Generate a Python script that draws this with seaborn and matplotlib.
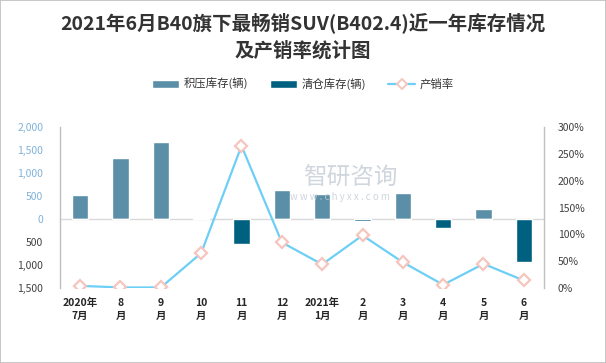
import numpy as np
import pandas as pd
import matplotlib
matplotlib.use("Agg")
import matplotlib.pyplot as plt
import seaborn as sns
from matplotlib.lines import Line2D
from matplotlib.patches import Patch, Rectangle
from matplotlib.ticker import FuncFormatter

# Data
months = ["2020年\n7月", "8\n月", "9\n月", "10\n月", "11\n月", "12\n月",
          "2021年\n1月", "2\n月", "3\n月", "4\n月", "5\n月", "6\n月"]
backlog = [520, 1320, 1670, 30, 0, 630, 540, 0, 565, 0, 215, 0]        # 积压库存(辆)
clearance = [0, 0, 0, 0, 540, 0, 0, 40, 0, 190, 0, 930]                 # 清仓库存(辆), drawn below zero
sell_rate = [4, 1, 1, 65, 265, 85, 44, 98, 48, 6, 45, 14]               # 产销率 (%)

series_names = ["积压库存(辆)", "清仓库存(辆)", "产销率"]
bar_colors = ["#5B8FA8", "#00607F"]
line_color = "#6DCFF6"
marker_edge = "#F6C5BE"

df = pd.DataFrame({
    "month": months * 2,
    "value": backlog + [-v for v in clearance],
    "type": [series_names[0]] * len(months) + [series_names[1]] * len(months),
})

sns.set_theme(style="white")
plt.rcParams["font.family"] = ["Noto Sans CJK SC", "DejaVu Sans"]

fig = plt.figure(figsize=(6.06, 3.63), dpi=100)
ax = fig.add_axes([60 / 606, 1 - 288 / 363, 484 / 606, 161 / 363])

sns.barplot(data=df, x="month", y="value", hue="type", dodge=False,
            palette=bar_colors, width=0.4, errorbar=None, legend=False,
            saturation=1, ax=ax)
ax.axhline(0, color="#d9d9d9", lw=1, zorder=0.5)

ax.set_ylim(-1500, 2000)
ax.set_yticks(np.arange(-1500, 2001, 500))
ax.yaxis.set_major_formatter(FuncFormatter(lambda v, p: f"{abs(v):,.0f}"))
for lab, v in zip(ax.get_yticklabels(), ax.get_yticks()):
    lab.set_color("#7FB2D9" if v >= 0 else "#404040")
ax.set_xlabel("")
ax.set_ylabel("")
ax.tick_params(axis="y", length=0, labelsize=7.5, pad=12)
ax.tick_params(axis="x", length=0, labelsize=7.5, pad=7)
for lab in ax.get_xticklabels():
    lab.set_fontweight("bold")
    lab.set_color("#262626")
    lab.set_linespacing(1.4)

for side in ["top", "bottom"]:
    ax.spines[side].set_visible(False)
for side in ["left", "right"]:
    ax.spines[side].set_color("#bfbfbf")
    ax.spines[side].set_linewidth(1)

# right axis: sell-through rate
ax2 = ax.twinx()
sns.lineplot(x=np.arange(len(months)), y=sell_rate, ax=ax2, color=line_color,
             lw=1.6, marker="D", markersize=6, markerfacecolor="white",
             markeredgecolor=marker_edge, markeredgewidth=1.6)
ax2.set_ylim(0, 300)
ax2.set_yticks(np.arange(0, 301, 50))
ax2.yaxis.set_major_formatter(FuncFormatter(lambda v, p: f"{v:.0f}%"))
ax2.tick_params(axis="y", length=0, labelsize=7.5, labelcolor="#404040", pad=10)
for side in ax2.spines:
    ax2.spines[side].set_visible(False)
ax.set_xlim(-0.5, len(months) - 0.5)
ax2.set_xlim(-0.5, len(months) - 0.5)

# titles
fig.text(0.5, 1 - 23 / 363, "2021年6月B40旗下最畅销SUV(B402.4)近一年库存情况",
         ha="center", va="center", fontsize=14, fontweight="bold", color="#333333")
fig.text(0.5, 1 - 51 / 363, "及产销率统计图",
         ha="center", va="center", fontsize=14, fontweight="bold", color="#333333")

# legend
handles = [
    Patch(facecolor=bar_colors[0]),
    Patch(facecolor=bar_colors[1]),
    Line2D([0], [0], color=line_color, lw=1.6, marker="D", markersize=5,
           markerfacecolor="white", markeredgecolor=marker_edge, markeredgewidth=1.4),
]
fig.legend(handles, series_names, loc="center", bbox_to_anchor=(0.5, 1 - 84 / 363),
           ncol=3, frameon=False, fontsize=8.2, handlelength=2.4, handleheight=0.7,
           columnspacing=1.9, handletextpad=0.4, labelcolor="#333333")

# watermark
fig.text(350 / 606, 1 - 178 / 363, "智研咨询", ha="center", va="center",
         fontsize=17, color="#c4ccd6", alpha=0.8)
fig.text(340 / 606, 1 - 197 / 363, "w w w . c h y x x . c o m", ha="center", va="center",
         fontsize=7, color="#c4ccd6", alpha=0.8)

fig.add_artist(Rectangle((0, 0), 1, 1, transform=fig.transFigure, fill=False,
                         ec="#bfbfbf", lw=1.2))

fig.savefig("out.png", dpi=100)
